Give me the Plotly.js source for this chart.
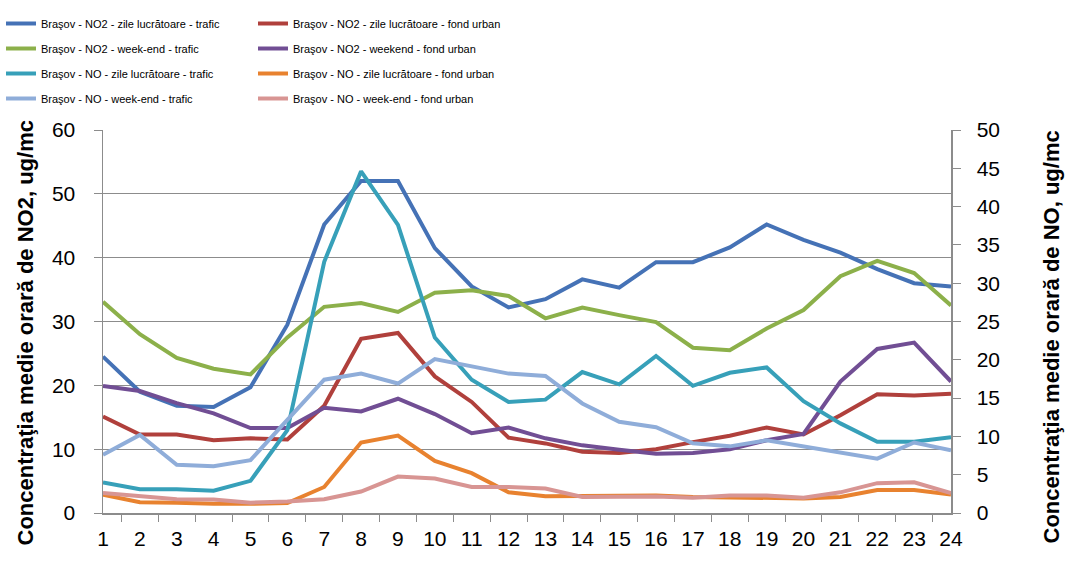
<!DOCTYPE html>
<html>
<head>
<meta charset="utf-8">
<script src="https://cdn.plot.ly/plotly-3.0.1.min.js"></script>
<style>html,body{margin:0;padding:0;background:#fff;}#chart{width:1065px;height:567px;}</style>
</head>
<body>
<div id="chart"></div>
<script>
var hours = ['1','2','3','4','5','6','7','8','9','10','11','12','13','14','15','16','17','18','19','20','21','22','23','24'];

var no2ZileTrafic   = [24.5,19.0,16.8,16.6,19.7,29.5,45.2,52.0,52.0,41.5,35.5,32.2,33.5,36.6,35.3,39.3,39.3,41.6,45.2,42.8,40.8,38.2,36.0,35.5];
var no2ZileFond     = [15.1,12.3,12.3,11.4,11.7,11.5,16.8,27.3,28.2,21.4,17.4,11.8,10.9,9.6,9.4,10.0,11.1,12.1,13.4,12.3,15.3,18.6,18.4,18.7];
var no2WeekendTrafic= [33.1,28.0,24.3,22.6,21.7,27.5,32.3,32.9,31.5,34.5,34.9,34.0,30.5,32.2,31.0,29.9,25.9,25.5,28.9,31.8,37.1,39.5,37.6,32.5];
var no2WeekendFond  = [19.9,19.1,17.2,15.6,13.3,13.3,16.5,15.9,17.9,15.5,12.5,13.4,11.7,10.6,9.9,9.3,9.4,10.0,11.4,12.4,20.6,25.7,26.7,20.6];
var noZileTrafic    = [4.0,3.1,3.1,2.9,4.2,10.8,32.8,44.6,37.6,22.9,17.4,14.5,14.8,18.4,16.8,20.5,16.6,18.3,19.0,14.6,11.7,9.3,9.3,9.9];
var noZileFond      = [2.4,1.4,1.35,1.2,1.2,1.3,3.4,9.2,10.1,6.8,5.2,2.7,2.2,2.2,2.2,2.3,2.1,2.0,2.0,1.9,2.1,3.0,3.0,2.4];
var noWeekendTrafic = [7.6,10.2,6.3,6.1,6.9,12.1,17.4,18.2,16.9,20.1,19.1,18.2,17.9,14.3,11.9,11.2,9.1,8.7,9.5,8.7,7.8,7.1,9.2,8.2];
var noWeekendFond   = [2.6,2.2,1.8,1.75,1.35,1.5,1.8,2.8,4.75,4.5,3.4,3.4,3.2,2.1,2.1,2.15,2.0,2.3,2.3,2.0,2.7,3.9,4.0,2.6];

var names = [
  'Braşov - NO2 - zile lucrătoare - trafic',
  'Braşov - NO2 - zile lucrătoare - fond urban',
  'Braşov - NO2 - week-end - trafic',
  'Braşov - NO2 - weekend - fond urban',
  'Braşov - NO - zile lucrătoare - trafic',
  'Braşov - NO - zile lucrătoare - fond urban',
  'Braşov - NO - week-end - trafic',
  'Braşov - NO - week-end - fond urban'
];
var leftTitle = 'Concentraţia medie orară de NO2, ug/mc';
var rightTitle = 'Concentraţia medie orară de NO, ug/mc';

var series = [no2ZileTrafic, no2ZileFond, no2WeekendTrafic, no2WeekendFond, noZileTrafic, noZileFond, noWeekendTrafic, noWeekendFond];
var colors = ['#4572B6','#B0403C','#8CB04A','#714E94','#37A0B9','#E8822F','#8FADD9','#D89593'];
var axes = ['y','y','y','y','y2','y2','y2','y2'];
var legends = ['legend','legend2','legend','legend2','legend','legend2','legend','legend2'];

var traces = series.map(function(s, i) {
  return {
    x: hours, y: s, name: names[i], type: 'scatter', mode: 'lines',
    yaxis: axes[i], legend: legends[i], legendgroup: 'g' + i,
    line: {color: colors[i], width: 4}
  };
});

var tickFont = {family: 'Liberation Sans, Arial, sans-serif', size: 21, color: '#000'};
var legFont = {family: 'Liberation Sans, Arial, sans-serif', size: 11, color: '#000'};
var titleFont = {family: 'Liberation Sans, Arial, sans-serif', size: 22, color: '#000', weight: 'bold'};

var layout = {
  width: 1065, height: 567,
  margin: {l: 103, r: 114, t: 130, b: 54, autoexpand: false},
  paper_bgcolor: '#fff', plot_bgcolor: '#fff',
  showlegend: true,
  xaxis: {
    type: 'category', tickson: 'boundaries', ticks: 'outside', ticklen: 7, tickcolor: '#8c8c8c',
    showline: true, linecolor: '#8c8c8c', linewidth: 1.5, showgrid: false, tickangle: 0,
    tickfont: tickFont, ticklabelstandoff: 6
  },
  yaxis: {
    range: [0, 60], dtick: 10, ticks: 'outside', ticklen: 8, tickcolor: '#8c8c8c',
    showline: true, linecolor: '#8c8c8c', linewidth: 1.5,
    showgrid: true, gridcolor: '#8c8c8c', gridwidth: 1.2, zeroline: false,
    tickfont: tickFont, ticklabelstandoff: 14
  },
  yaxis2: {
    range: [0, 50], dtick: 5, overlaying: 'y', side: 'right', anchor: 'x',
    ticks: 'outside', ticklen: 8, tickcolor: '#8c8c8c',
    showline: true, linecolor: '#8c8c8c', linewidth: 1.5, showgrid: false, zeroline: false,
    tickfont: tickFont, ticklabelstandoff: 12
  },
  annotations: [
    {text: leftTitle, xref: 'paper', yref: 'paper', x: 0, y: 0.5, xanchor: 'center', yanchor: 'middle',
     xshift: -78, yshift: -12, textangle: -90, showarrow: false, font: titleFont},
    {text: rightTitle, xref: 'paper', yref: 'paper', x: 1, y: 0.5, xanchor: 'center', yanchor: 'middle',
     xshift: 100, yshift: -16, textangle: -90, showarrow: false, font: titleFont}
  ],
  legend: {
    xref: 'container', yref: 'container', x: 1/1065, y: 1 - 9/567, xanchor: 'left', yanchor: 'top',
    orientation: 'v', font: legFont, tracegroupgap: 6, bgcolor: 'rgba(0,0,0,0)'
  },
  legend2: {
    xref: 'container', yref: 'container', x: 253/1065, y: 1 - 9/567, xanchor: 'left', yanchor: 'top',
    orientation: 'v', font: legFont, tracegroupgap: 6, bgcolor: 'rgba(0,0,0,0)'
  }
};

Plotly.newPlot('chart', traces, layout, {displayModeBar: false, staticPlot: true});
</script>
</body>
</html>
